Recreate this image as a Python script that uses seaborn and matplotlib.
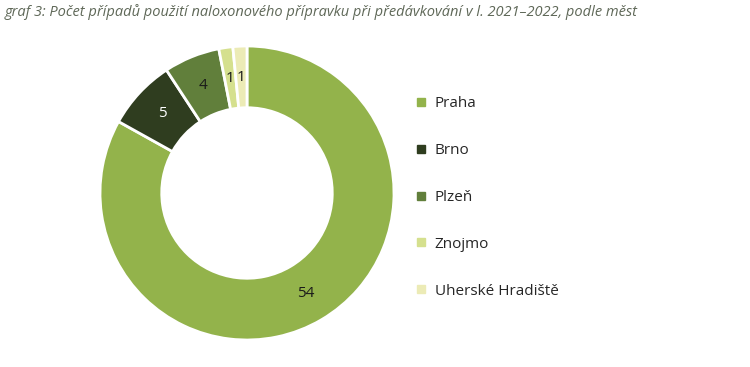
import matplotlib
matplotlib.use("Agg")
import matplotlib.pyplot as plt
from matplotlib.lines import Line2D
import numpy as np
import seaborn as sns

cities = ["Praha", "Brno", "Plzeň", "Znojmo", "Uherské Hradiště"]
counts = [54, 5, 4, 1, 1]
colors = ["#93b34b", "#2f3d1f", "#617f3b", "#d5e08e", "#ecebb6"]
label_colors = ["#1a1a1a", "#ffffff", "#1a1a1a", "#1a1a1a", "#1a1a1a"]
title = "graf 3: Počet případů použití naloxonového přípravku při předávkování v l. 2021–2022, podle měst"

sns.set_theme(style="white")
plt.rcParams["font.family"] = ["Open Sans", "DejaVu Sans"]

fig = plt.figure(figsize=(7.5, 3.67), dpi=100)
ax = fig.add_axes([100 / 750, 27 / 367, 294 / 750, 294 / 367])

wedges, texts = ax.pie(
    counts, colors=colors, startangle=90, counterclock=False, radius=1.0,
    wedgeprops=dict(width=0.42, edgecolor="white", linewidth=2),
)
for w, c, tc in zip(wedges, counts, label_colors):
    ang = np.deg2rad((w.theta1 + w.theta2) / 2)
    r = 0.79
    ax.text(r * np.cos(ang), r * np.sin(ang), str(c), ha="center", va="center",
            fontsize=11, color=tc)
ax.set_xlim(-1, 1)
ax.set_ylim(-1, 1)
ax.set_aspect("equal")
ax.axis("off")

handles = [Line2D([0], [0], marker="s", linestyle="none", markersize=6,
                  markerfacecolor=c, markeredgecolor=c) for c in colors]
fig.legend(handles, cities, loc="upper left", bbox_to_anchor=(415 / 750, 1 - 96 / 367),
           frameon=False, fontsize=11, labelspacing=2.09, handlelength=0.8,
           handletextpad=0.5, borderaxespad=0, borderpad=0)

fig.text(5 / 750, 1 - 12 / 367, title, ha="left", va="center", fontsize=10.5,
         style="italic", color="#5f6858")

fig.savefig("out.png", dpi=100)
